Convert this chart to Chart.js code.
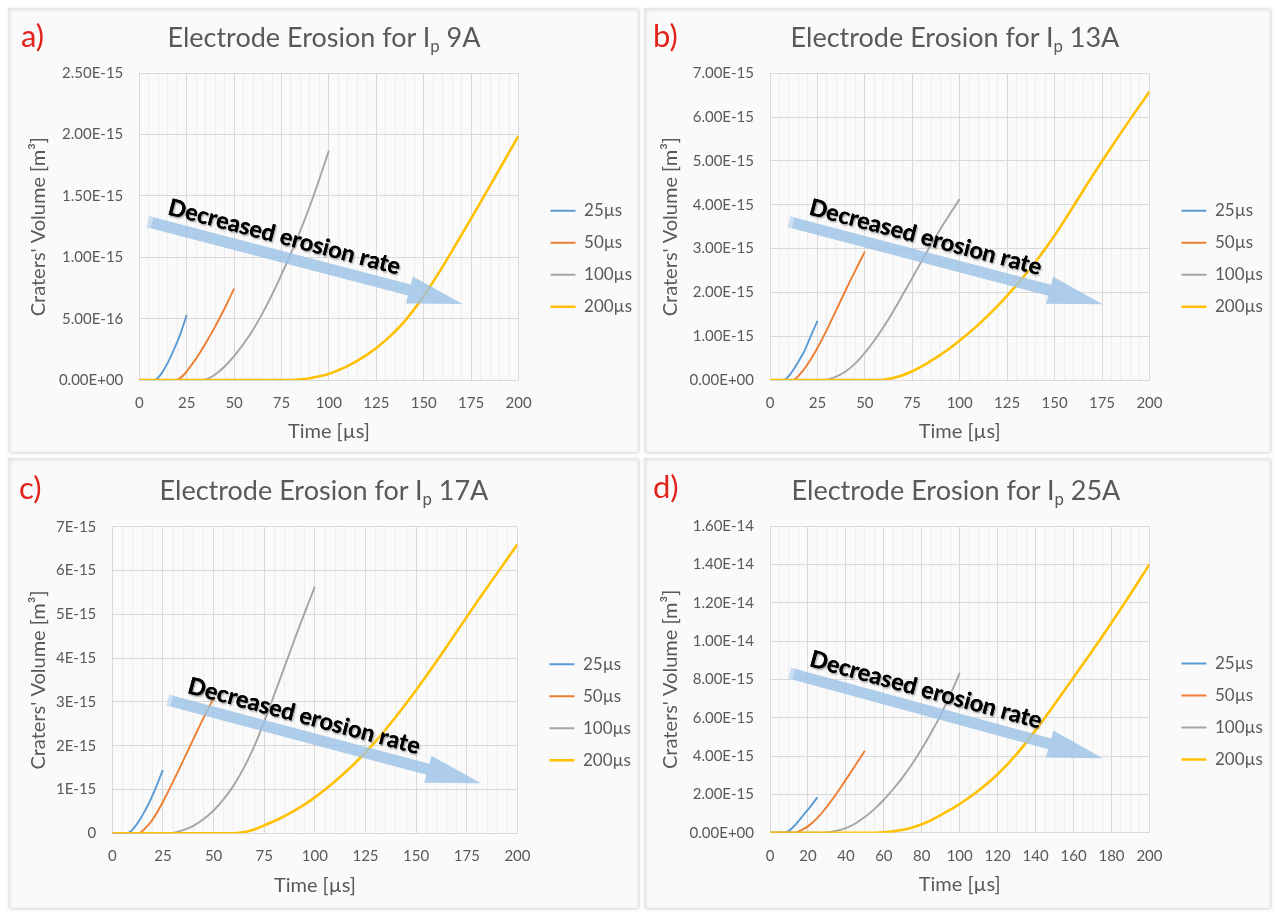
<!DOCTYPE html>
<html>
<head>
<meta charset="utf-8">
<title>Electrode Erosion</title>
<script src="https://cdn.jsdelivr.net/npm/chart.js@4.4.1/dist/chart.umd.min.js"></script>
<style>
  html, body { margin: 0; padding: 0; background: #ffffff; }
  body { width: 1276px; height: 913px; position: relative; overflow: hidden; font-family: Lato, sans-serif; }
  .card { position: absolute; background: #fafafa; box-shadow: inset 2px 2px 4px rgba(0,0,0,0.10), 1px 1px 3px rgba(0,0,0,0.18); }
  .card canvas { position: absolute; left: 0; top: 0; }
  .tag { position: absolute; color: #e0241b; font-size: 31px; line-height: 1; }
  .ttl { position: absolute; color: #595959; font-size: 27px; line-height: 1; white-space: nowrap; transform: translateX(-50%); }
  .ttl sub { font-size: 0.62em; vertical-align: -0.32em; line-height: 0; }
</style>
</head>
<body>

<div class="card" style="left:8px;top:8px;width:630px;height:444px">
  <canvas id="chartA" width="630" height="444"></canvas>
  <div class="tag" style="left:13px;top:12px">a)</div>
  <div class="ttl" style="left:316px;top:15px">Electrode Erosion for I<sub>p</sub> 9A</div>
</div>
<div class="card" style="left:644px;top:8px;width:626px;height:444px">
  <canvas id="chartB" width="626" height="444"></canvas>
  <div class="tag" style="left:9px;top:12px">b)</div>
  <div class="ttl" style="left:311px;top:15px">Electrode Erosion for I<sub>p</sub> 13A</div>
</div>
<div class="card" style="left:8px;top:458px;width:630px;height:450px">
  <canvas id="chartC" width="630" height="450"></canvas>
  <div class="tag" style="left:11px;top:14px">c)</div>
  <div class="ttl" style="left:316px;top:18px">Electrode Erosion for I<sub>p</sub> 17A</div>
</div>
<div class="card" style="left:644px;top:458px;width:626px;height:450px">
  <canvas id="chartD" width="626" height="450"></canvas>
  <div class="tag" style="left:9px;top:13px">d)</div>
  <div class="ttl" style="left:312px;top:18px">Electrode Erosion for I<sub>p</sub> 25A</div>
</div>

<script>
// pulse durations (legend)
const seriesNames = ['25µs', '50µs', '100µs', '200µs'];
const seriesColors = ['#5B9BD5', '#ED7D31', '#A5A5A5', '#FFC000'];

// a) Ip 9A  -- time [µs] / crater volume [m3]
const t25a = [0, 8, 10, 12, 15, 18, 20, 22, 25];
const v25a = [0, 0, 0.2e-16, 0.6e-16, 1.4e-16, 2.4e-16, 3.1e-16, 3.9e-16, 5.3e-16];
const t50a = [0, 19, 21, 23, 25, 30, 35, 40, 45, 50];
const v50a = [0, 0, 0.1e-16, 0.35e-16, 0.7e-16, 1.75e-16, 3.0e-16, 4.35e-16, 5.85e-16, 7.45e-16];
const t100a = [0, 33, 36, 40, 45, 50, 55, 60, 65, 70, 75, 80, 85, 90, 95, 100];
const v100a = [0, 0, 0.1e-16, 0.45e-16, 1.1e-16, 1.95e-16, 2.95e-16, 4.1e-16, 5.45e-16, 6.95e-16, 8.6e-16, 10.35e-16, 12.2e-16, 14.2e-16, 16.4e-16, 18.7e-16];
const t200a = [0, 80, 85, 90, 95, 100, 110, 120, 130, 140, 150, 160, 170, 180, 190, 200];
const v200a = [0, 0, 0.05e-16, 0.15e-16, 0.3e-16, 0.5e-16, 1.15e-16, 2.05e-16, 3.25e-16, 4.8e-16, 6.85e-16, 9.25e-16, 11.85e-16, 14.5e-16, 17.2e-16, 19.9e-16];

// b) Ip 13A
const t25b = [0, 7, 9, 11, 13, 15, 18, 20, 22, 25];
const v25b = [0, 0, 0.05e-15, 0.15e-15, 0.28e-15, 0.42e-15, 0.65e-15, 0.85e-15, 1.05e-15, 1.35e-15];
const t50b = [0, 12, 14, 16, 18, 20, 25, 30, 35, 40, 45, 50];
const v50b = [0, 0, 0.05e-15, 0.14e-15, 0.25e-15, 0.37e-15, 0.73e-15, 1.15e-15, 1.6e-15, 2.06e-15, 2.5e-15, 2.93e-15];
const t100b = [0, 28, 32, 36, 40, 45, 50, 55, 60, 65, 70, 75, 80, 85, 90, 95, 100];
const v100b = [0, 0, 0.03e-15, 0.1e-15, 0.2e-15, 0.38e-15, 0.62e-15, 0.9e-15, 1.22e-15, 1.57e-15, 1.95e-15, 2.33e-15, 2.72e-15, 3.1e-15, 3.46e-15, 3.8e-15, 4.13e-15];
const t200b = [0, 58, 62, 66, 70, 75, 80, 85, 90, 95, 100, 110, 120, 130, 140, 150, 160, 170, 180, 190, 200];
const v200b = [0, 0, 0.02e-15, 0.06e-15, 0.11e-15, 0.2e-15, 0.31e-15, 0.44e-15, 0.58e-15, 0.73e-15, 0.9e-15, 1.27e-15, 1.69e-15, 2.17e-15, 2.7e-15, 3.3e-15, 3.97e-15, 4.66e-15, 5.32e-15, 5.96e-15, 6.58e-15];

// c) Ip 17A
const t25c = [0, 7, 9, 11, 13, 15, 18, 20, 22, 25];
const v25c = [0, 0, 0.04e-15, 0.14e-15, 0.27e-15, 0.42e-15, 0.68e-15, 0.88e-15, 1.1e-15, 1.45e-15];
const t50c = [0, 13, 15, 17, 20, 25, 30, 35, 40, 45, 50];
const v50c = [0, 0, 0.06e-15, 0.15e-15, 0.32e-15, 0.72e-15, 1.18e-15, 1.66e-15, 2.15e-15, 2.63e-15, 3.08e-15];
const t100c = [0, 28, 32, 36, 40, 45, 50, 55, 60, 65, 70, 75, 80, 85, 90, 95, 100];
const v100c = [0, 0, 0.03e-15, 0.09e-15, 0.17e-15, 0.32e-15, 0.52e-15, 0.78e-15, 1.1e-15, 1.5e-15, 1.98e-15, 2.55e-15, 3.17e-15, 3.8e-15, 4.43e-15, 5.04e-15, 5.63e-15];
const t200c = [0, 60, 64, 68, 72, 76, 80, 85, 90, 95, 100, 110, 120, 130, 140, 150, 160, 170, 180, 190, 200];
const v200c = [0, 0, 0.02e-15, 0.06e-15, 0.12e-15, 0.2e-15, 0.28e-15, 0.39e-15, 0.52e-15, 0.66e-15, 0.82e-15, 1.19e-15, 1.61e-15, 2.1e-15, 2.66e-15, 3.27e-15, 3.92e-15, 4.6e-15, 5.28e-15, 5.94e-15, 6.6e-15];

// d) Ip 25A
const t25d = [0, 8, 10, 12, 15, 18, 20, 22, 25];
const v25d = [0, 0, 0.1e-15, 0.27e-15, 0.6e-15, 0.97e-15, 1.2e-15, 1.45e-15, 1.84e-15];
const t50d = [0, 13, 15, 17, 20, 25, 30, 35, 40, 45, 50];
const v50d = [0, 0, 0.06e-15, 0.16e-15, 0.33e-15, 0.77e-15, 1.36e-15, 2.03e-15, 2.77e-15, 3.52e-15, 4.28e-15];
const t100d = [0, 28, 32, 36, 40, 45, 50, 55, 60, 65, 70, 75, 80, 85, 90, 95, 100];
const v100d = [0, 0, 0.04e-15, 0.12e-15, 0.24e-15, 0.48e-15, 0.82e-15, 1.23e-15, 1.72e-15, 2.28e-15, 2.9e-15, 3.6e-15, 4.38e-15, 5.23e-15, 6.15e-15, 7.2e-15, 8.35e-15];
const t200d = [0, 56, 60, 65, 70, 75, 80, 85, 90, 95, 100, 110, 120, 130, 140, 150, 160, 170, 180, 190, 200];
const v200d = [0, 0, 0.02e-15, 0.07e-15, 0.15e-15, 0.27e-15, 0.44e-15, 0.66e-15, 0.92e-15, 1.2e-15, 1.5e-15, 2.2e-15, 3.05e-15, 4.1e-15, 5.35e-15, 6.7e-15, 8.1e-15, 9.5e-15, 10.95e-15, 12.45e-15, 14.0e-15];

Chart.defaults.font.family = 'Lato';
Chart.defaults.color = '#595959';

const GRID = '#d9d9d9';
const GRID_MINOR = '#ededed';
const LEGEND_FONT = 17;

// width the right-hand legend will take (paddings + line sample + gap + longest label)
const measureCtx = document.createElement('canvas').getContext('2d');
measureCtx.font = LEGEND_FONT + 'px Lato';
const legendWidth = 15 + 25 + LEGEND_FONT / 2 + 4.5 +
  Math.max(...seriesNames.map(s => measureCtx.measureText(s).width));

// "Decreased erosion rate" arrow, anchored in data units
const arrowPlugin = {
  id: 'erosionArrow',
  afterDatasetsDraw(chart, args, opts) {
    if (!opts || !opts.from) return;
    const { ctx, scales: { x, y } } = chart;
    const x0 = x.getPixelForValue(opts.from[0]), y0 = y.getPixelForValue(opts.from[1]);
    const x1 = x.getPixelForValue(opts.to[0]), y1 = y.getPixelForValue(opts.to[1]);
    const len = Math.hypot(x1 - x0, y1 - y0);
    ctx.save();
    ctx.translate(x0, y0);
    ctx.rotate(Math.atan2(y1 - y0, x1 - x0));
    ctx.fillStyle = 'rgba(155, 194, 230, 0.8)';
    ctx.beginPath();
    ctx.moveTo(0, -5.6);
    ctx.lineTo(len - 55, -5.6);
    ctx.lineTo(len - 55, -14);
    ctx.lineTo(len, 0);
    ctx.lineTo(len - 55, 14);
    ctx.lineTo(len - 55, 5.6);
    ctx.lineTo(0, 5.6);
    ctx.closePath();
    ctx.fill();
    ctx.fillStyle = 'rgba(205, 225, 244, 0.9)';
    ctx.fillRect(0, -5.6, 4, 11.2);

    const label = 'Decreased erosion rate';
    ctx.font = 'bold 22px Lato';
    const size = 22 * 239 / ctx.measureText(label).width;
    ctx.font = 'bold ' + size.toFixed(1) + 'px Lato';
    ctx.textBaseline = 'alphabetic';
    ctx.shadowColor = 'rgba(255,255,255,0.95)';
    ctx.shadowBlur = 5;
    ctx.fillStyle = '#000000';
    ctx.fillText(label, 16, -12);
    ctx.shadowColor = 'rgba(0,0,0,0.4)';
    ctx.shadowBlur = 2;
    ctx.shadowOffsetX = 1;
    ctx.shadowOffsetY = 1.5;
    ctx.fillText(label, 16, -12);
    ctx.restore();
  }
};

function sci2(v) {
  const [m, e] = v.toExponential(2).split('e');
  const n = Math.abs(parseInt(e, 10));
  return m + 'E' + (e[0] === '-' ? '-' : '+') + String(n).padStart(2, '0');
}
function sci0(v) {
  if (Math.abs(v) < 1e-30) return '0';
  return v.toExponential(0).toUpperCase();
}

function buildSets(ts, vs) {
  return ts.map((t, i) => ({
    label: seriesNames[i],
    data: t.map((tt, j) => ({ x: tt, y: vs[i][j] })),
    borderColor: seriesColors[i],
    backgroundColor: seriesColors[i],
    borderWidth: i === 3 ? 2.6 : 1.9,
    pointRadius: 0,
    tension: 0.4,
    fill: false,
    order: ts.length - i   // later series on top, like the spreadsheet
  }));
}

function panel(id, p) {
  const canvas = document.getElementById(id);
  // right padding so that the plot ends at p.plotRight (canvas px)
  const padRight = canvas.width - p.plotRight - 17 - legendWidth;
  new Chart(canvas, {
    type: 'line',
    data: { datasets: buildSets(p.ts, p.vs) },
    plugins: [arrowPlugin],
    options: {
      responsive: false,
      animation: false,
      events: [],
      layout: { padding: { left: p.padLeft, right: padRight, top: p.padTop, bottom: p.padBottom } },
      scales: {
        x: {
          type: 'linear',
          min: 0, max: 200,
          grid: {
            drawTicks: false,
            color: c => (c.tick && c.tick.value % p.xMajor === 0) ? GRID : GRID_MINOR
          },
          border: { color: GRID },
          ticks: {
            stepSize: 5,
            autoSkip: false,
            maxRotation: 0,
            padding: 14,
            font: { size: 15 },
            callback: v => (v % p.xMajor === 0 ? String(v) : '')
          },
          title: { display: true, text: 'Time [µs]', font: { size: 20 }, padding: { top: 0, bottom: 6 } },
          afterFit: s => { s.height = 70; }
        },
        y: {
          type: 'linear',
          min: 0, max: p.yMax,
          grid: { drawTicks: false, color: GRID },
          border: { color: GRID },
          ticks: { stepSize: p.yStep, padding: 16, font: { size: 15 }, callback: p.fmt },
          title: { display: true, text: "Craters' Volume [m³]", font: { size: 20 }, padding: { top: 0, bottom: 0 } },
          afterFit: s => { s.width = p.yWidth; }
        },
        gap: {
          type: 'linear',
          position: 'right',
          grid: { display: false },
          border: { display: false },
          ticks: { display: false },
          afterFit: s => { s.width = 17; }
        }
      },
      plugins: {
        legend: {
          position: 'right',
          align: 'start',
          fullSize: false,
          title: { display: true, text: ' ', font: { size: 10 }, padding: { top: 102, bottom: 0 } },
          labels: {
            usePointStyle: true,
            pointStyle: 'line',
            pointStyleWidth: 25,
            padding: 15,
            color: '#595959',
            font: { size: LEGEND_FONT },
            sort: (a, b) => a.datasetIndex - b.datasetIndex
          }
        },
        tooltip: { enabled: false },
        erosionArrow: p.arrow
      }
    }
  });
}

panel('chartA', {
  ts: [t25a, t50a, t100a, t200a], vs: [v25a, v50a, v100a, v200a],
  yMax: 2.5e-15, yStep: 5e-16, fmt: sci2, xMajor: 25,
  padLeft: 18.8, padTop: 65.3, padBottom: 2, plotRight: 511.3, yWidth: 112.5,
  arrow: { from: [4.7, 1.29e-15], to: [170.5, 0.62e-15] }
});
panel('chartB', {
  ts: [t25b, t50b, t100b, t200b], vs: [v25b, v50b, v100b, v200b],
  yMax: 7e-15, yStep: 1e-15, fmt: sci2, xMajor: 25,
  padLeft: 14.7, padTop: 65.3, padBottom: 2, plotRight: 506, yWidth: 111.3,
  arrow: { from: [10.2, 3.61e-15], to: [175.4, 1.73e-15] }
});
panel('chartC', {
  ts: [t25c, t50c, t100c, t200c], vs: [v25c, v50c, v100c, v200c],
  yMax: 7e-15, yStep: 1e-15, fmt: sci0, xMajor: 25,
  padLeft: 18.8, padTop: 68.7, padBottom: 4.7, plotRight: 510, yWidth: 85.5,
  arrow: { from: [27.5, 3.04e-15], to: [182, 1.14e-15] }
});
panel('chartD', {
  ts: [t25d, t50d, t100d, t200d], vs: [v25d, v50d, v100d, v200d],
  yMax: 1.6e-14, yStep: 2e-15, fmt: sci2, xMajor: 20,
  padLeft: 14.7, padTop: 68, padBottom: 5.3, plotRight: 506, yWidth: 111.3,
  arrow: { from: [10.5, 8.32e-15], to: [175.4, 3.88e-15] }
});
</script>
</body>
</html>
